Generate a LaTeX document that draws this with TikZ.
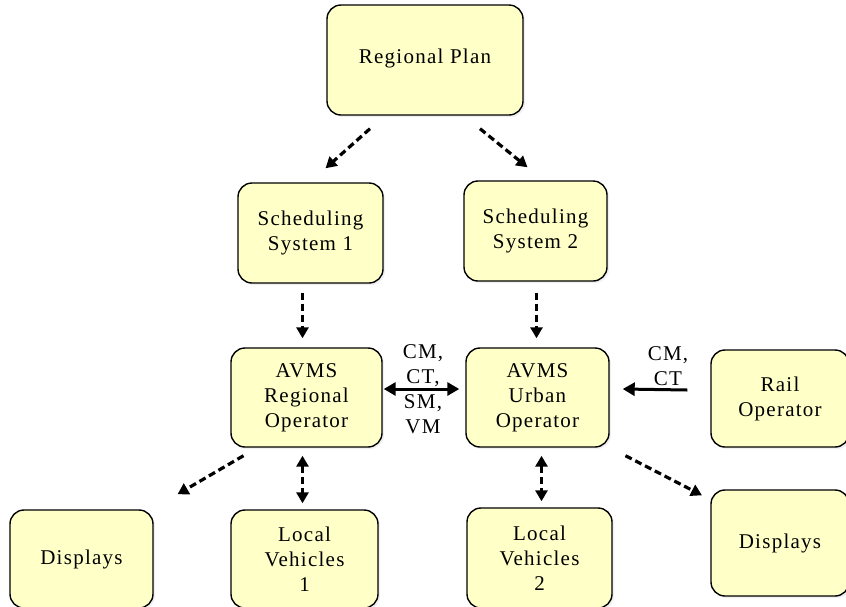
\documentclass[tikz,border=0pt]{standalone}
\usepackage{fontspec}
\setmainfont{Liberation Serif}[LetterSpace=6]
\usepackage{tikz}
\usetikzlibrary{arrows.meta,calc,shadows}
\definecolor{boxfill}{HTML}{FFFFC8}

\begin{document}
\begin{tikzpicture}[x=1pt,y=1pt,
	box/.style={draw=black,line width=1.4pt,fill=boxfill,rounded corners=14pt,inner sep=0pt,align=center,
		font=\fontsize{21}{25}\selectfont,drop shadow={opacity=0.12,shadow xshift=2pt,shadow yshift=-2pt}},
	label/.style={inner sep=0pt,align=center,font=\fontsize{21}{25}\selectfont},
	flow/.style={line width=3.2pt,dash pattern=on 7pt off 4pt,-{Triangle[length=11pt,width=12pt]}},
	both/.style={line width=3.2pt,dash pattern=on 7pt off 4pt,{Triangle[length=11pt,width=12pt]}-{Triangle[length=11pt,width=12pt]}},
	link/.style={line width=3pt,-{Triangle[length=12pt,width=13pt]}},
	twoway/.style={line width=3pt,{Triangle[length=12pt,width=13pt]}-{Triangle[length=12pt,width=13pt]}}]
	\useasboundingbox (0,0) rectangle (846,-606);
	\node[box,minimum width=196,minimum height=110] (rp) at (425,-60) {\raisebox{8pt}{Regional Plan}};
	\node[box,minimum width=145,minimum height=100] (ss1) at (310.5,-233) {Scheduling\\System 1};
	\node[box,minimum width=143,minimum height=100] (ss2) at (535.5,-231) {Scheduling\\System 2};
	\node[box,minimum width=151,minimum height=99] (avr) at (306.5,-397.5) {AVMS\\Regional\\Operator};
	\node[box,minimum width=143,minimum height=99] (avu) at (537.5,-397.5) {AVMS\\Urban\\Operator};
	\node[box,minimum width=138,minimum height=97] (rail) at (780,-398.5) {Rail\\Operator};
	\node[box,minimum width=143,minimum height=98] (dl) at (81.5,-559) {Displays};
	\node[box,minimum width=147,minimum height=98] (lv1) at (304.5,-559) {Local\\Vehicles\\1};
	\node[box,minimum width=145,minimum height=100] (lv2) at (539.5,-558) {Local\\Vehicles\\2};
	\node[box,minimum width=138,minimum height=106] (dr) at (780,-543) {Displays};
	\node[label] (msg) at (423,-389) {CM,\\CT,\\SM,\\VM};
	\node[label] (railmsg) at (668,-366) {CM,\\CT};

	\draw[flow] ($(rp.south)+(-55,-13)$) -- ($(ss1.north)+(15,14)$);
	\draw[flow] ($(rp.south)+(55,-13)$) -- ($(ss2.north)+(-8,13)$);
	\draw[flow] ($(ss1.south)+(-8,-9)$) -- ($(avr.north)+(-4,9)$);
	\draw[flow] ($(ss2.south)+(1,-11)$) -- ($(avu.north)+(-1,9)$);
	\draw[twoway] ($(avr.east)+(1,8.5)$) -- ($(avu.west)+(-6,8.5)$);
	\draw[link] ($(rail.west)+(-23,8.5)$) -- ($(avu.east)+(13,8.5)$);
	\draw[flow] ($(avr.south)+(-63,-8)$) -- ($(dl.north)+(96,15)$);
	\draw[both] ($(avr.south)+(-4,-8)$) -- ($(lv1.north)+(-2,6)$);
	\draw[both] ($(avu.south)+(4,-8)$) -- ($(lv2.north)+(2,6)$);
	\draw[flow] ($(avu.south)+(88,-8)$) -- ($(dr.north)+(-78,-6)$);
\end{tikzpicture}
\end{document}
